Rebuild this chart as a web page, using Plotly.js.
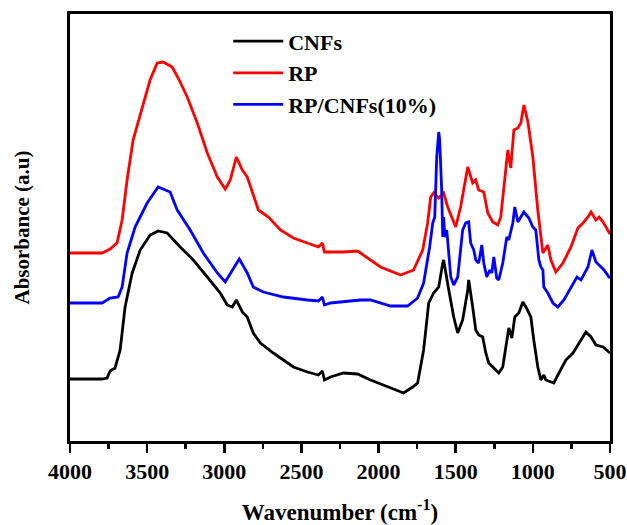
<!DOCTYPE html>
<html>
<head>
<meta charset="utf-8">
<script src="https://cdn.plot.ly/plotly-3.0.1.min.js"></script>
<style>html,body{margin:0;padding:0;background:#fff;}#chart{width:627px;height:525px;}</style>
</head>
<body>
<div id="chart"></div>
<script>
// Wavenumbers (cm^-1) and absorbance (arbitrary units, stacked as in the figure)
const cnfWn = [4000,3792,3760,3740,3708,3675,3643,3597,3545,3481,3429,3370,3286,3201,3110,3026,2981,2948,2922,2883,2851,2812,2766,2682,2552,2461,2390,2364,2351,2312,2227,2136,2052,1922,1838,1779,1747,1708,1675,1643,1610,1584,1578,1545,1513,1487,1455,1422,1416,1390,1370,1351,1325,1305,1286,1253,1221,1195,1162,1156,1136,1117,1091,1065,1045,1013,994,968,948,929,916,864,831,786,740,701,656,623,591,545,506,500];
const cnfAbs = [0.62,0.62,0.63,0.70,0.73,0.91,1.34,1.68,1.91,2.06,2.10,2.08,1.94,1.81,1.64,1.48,1.36,1.34,1.41,1.29,1.24,1.08,0.98,0.88,0.74,0.69,0.66,0.70,0.61,0.64,0.68,0.67,0.61,0.53,0.48,0.54,0.58,0.91,1.38,1.48,1.54,1.78,1.81,1.51,1.24,1.08,1.21,1.51,1.61,1.34,1.11,1.06,1.04,0.88,0.78,0.73,0.68,0.74,1.11,1.13,1.03,1.24,1.28,1.39,1.34,1.24,1.01,0.74,0.61,0.66,0.61,0.58,0.68,0.81,0.88,0.98,1.09,1.04,0.96,0.94,0.89,0.88];

const rpWn = [4000,3792,3740,3695,3662,3630,3591,3532,3481,3435,3396,3338,3299,3240,3175,3110,3045,2994,2961,2922,2883,2851,2818,2779,2714,2636,2552,2461,2390,2364,2351,2312,2227,2136,2117,1987,1857,1773,1714,1682,1662,1643,1610,1578,1552,1500,1468,1422,1390,1370,1351,1318,1292,1260,1227,1208,1162,1143,1123,1097,1078,1058,1032,1000,968,935,903,883,851,805,753,708,675,643,623,591,571,545,526,506,500];
const rpAbs = [1.88,1.88,1.92,1.98,2.21,2.61,3.01,3.34,3.61,3.78,3.79,3.74,3.63,3.44,3.18,2.88,2.64,2.52,2.61,2.84,2.71,2.64,2.48,2.31,2.24,2.11,2.03,1.98,1.94,1.98,1.89,1.89,1.89,1.90,1.88,1.74,1.66,1.71,1.91,2.18,2.44,2.48,2.43,2.48,2.34,2.14,2.34,2.74,2.58,2.61,2.51,2.49,2.28,2.19,2.16,2.24,2.91,2.73,3.11,3.13,3.18,3.36,3.19,2.84,2.31,1.88,1.96,1.81,1.69,1.78,1.94,2.13,2.18,2.24,2.29,2.21,2.24,2.19,2.14,2.08,2.07];

const compWn = [4000,3792,3740,3688,3662,3630,3578,3500,3429,3383,3351,3305,3221,3136,3045,2994,2948,2903,2851,2812,2747,2617,2461,2390,2364,2351,2312,2117,2052,1922,1812,1747,1708,1669,1649,1636,1623,1610,1604,1591,1584,1578,1571,1558,1532,1513,1487,1455,1435,1416,1403,1383,1370,1351,1331,1318,1299,1279,1266,1253,1234,1221,1195,1169,1156,1130,1117,1097,1078,1058,1026,1000,981,961,948,935,929,903,870,838,799,753,714,688,643,617,591,558,539,506,500];
const compAbs = [1.38,1.38,1.43,1.44,1.54,1.88,2.14,2.38,2.54,2.51,2.49,2.31,2.11,1.88,1.68,1.59,1.71,1.82,1.68,1.54,1.49,1.44,1.41,1.40,1.44,1.36,1.38,1.41,1.41,1.35,1.35,1.43,1.58,1.94,2.18,2.24,2.84,3.09,3.01,2.51,2.04,2.24,2.04,2.11,1.64,1.56,1.64,2.11,2.18,2.19,1.98,1.91,1.81,1.78,1.96,1.78,1.64,1.71,1.68,1.84,1.63,1.61,1.78,2.04,2.01,2.18,2.34,2.19,2.24,2.29,2.23,2.14,2.11,1.81,1.74,1.71,1.54,1.48,1.38,1.34,1.41,1.54,1.64,1.61,1.74,1.91,1.79,1.74,1.71,1.64,1.63];

const seriesNames = ['CNFs', 'RP', 'RP/CNFs(10%)'];
const xTickVals = [4000,3500,3000,2500,2000,1500,1000,500];
const xMinorVals = [3750,3250,2750,2250,1750,1250,750];

const serif = 'Liberation Serif, Times New Roman, serif';
const mk = (x, y, name, color) => ({
  x: x, y: y, name: name, type: 'scatter', mode: 'lines',
  line: {color: color, width: 2.8, shape: 'linear'}
});

const data = [
  mk(cnfWn, cnfAbs, seriesNames[0], '#000000'),
  mk(rpWn, rpAbs, seriesNames[1], '#ff0000'),
  mk(compWn, compAbs, seriesNames[2], '#0000ff')
];

const layout = {
  width: 627, height: 525,
  margin: {l: 70, r: 17, t: 14, b: 84},
  paper_bgcolor: '#ffffff', plot_bgcolor: '#ffffff',
  font: {family: serif, color: '#000', size: 22, weight: 'bold'},
  showlegend: true,
  legend: {
    x: 0.293, y: 0.985, xanchor: 'left', yanchor: 'top',
    bgcolor: 'rgba(0,0,0,0)', borderwidth: 0,
    itemwidth: 50,
    font: {family: serif, size: 22, color: '#000', weight: 'bold'}
  },
  xaxis: {
    range: [4000, 500], autorange: false,
    tickvals: xTickVals, ticktext: xTickVals.map(String),
    ticks: 'outside', ticklen: 9, tickwidth: 2.5, tickcolor: '#000',
    minor: {tickvals: xMinorVals, ticks: 'outside', ticklen: 5, tickwidth: 2.5, tickcolor: '#000'},
    showline: true, linewidth: 2.8, linecolor: '#000', mirror: true,
    showgrid: false, zeroline: false,
    tickfont: {family: serif, size: 22, color: '#000', weight: 'bold'},
    title: {text: 'Wavenumber (cm<sup>-1</sup>)', font: {family: serif, size: 23, color: '#000', weight: 'bold'}, standoff: 24}
  },
  yaxis: {
    range: [0, 4.27], autorange: false,
    showticklabels: false, ticks: '',
    showline: true, linewidth: 2.8, linecolor: '#000', mirror: true,
    showgrid: false, zeroline: false,
    title: {text: 'Absorbance (a.u)', font: {family: serif, size: 21, color: '#000', weight: 'bold'}, standoff: 32}
  }
};

Plotly.newPlot('chart', data, layout, {displayModeBar: false, staticPlot: true});
</script>
</body>
</html>
